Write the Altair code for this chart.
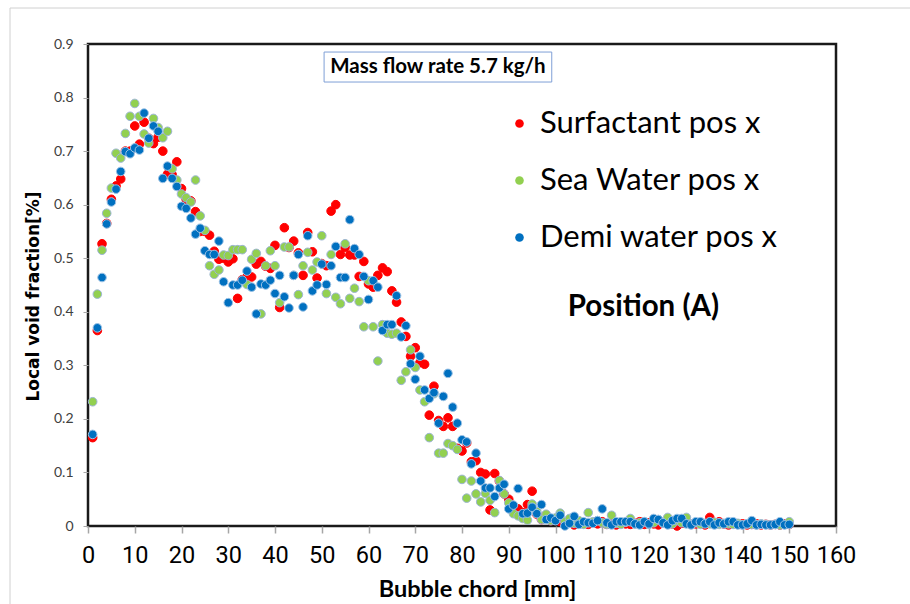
import altair as alt
import pandas as pd

SERIES = ["Surfactant pos x", "Sea Water pos x", "Demi water pos x"]
COLORS = ["#FF0000", "#92D050", "#0070C0"]
OUTLINES = ["#FF0000", "#9DB5D6", "#9DC3E6"]

X_MM = list(range(1, 151))

SURFACTANT = [
    0.165, 0.365, 0.527, 0.565, 0.610, 0.635, 0.648, 0.700, 0.700, 0.747,
    0.713, 0.754, 0.724, 0.714, 0.726, 0.700, 0.657, 0.656, 0.680, 0.630,
    0.610, 0.607, 0.587, 0.550, 0.550, 0.543, 0.513, 0.498, 0.500, 0.493,
    0.499, 0.425, 0.460, 0.465, 0.465, 0.489, 0.494, 0.485, 0.481, 0.524,
    0.408, 0.557, 0.520, 0.532, 0.510, 0.468, 0.548, 0.512, 0.463, 0.490,
    0.486, 0.588, 0.600, 0.507, 0.520, 0.506, 0.506, 0.466, 0.494, 0.452,
    0.446, 0.468, 0.482, 0.475, 0.439, 0.418, 0.381, 0.354, 0.317, 0.333,
    0.305, 0.302, 0.207, 0.261, 0.197, 0.186, 0.202, 0.186, 0.145, 0.140,
    0.155, 0.120, 0.122, 0.100, 0.097, 0.030, 0.098, 0.084, 0.060, 0.050,
    0.028, 0.032, 0.025, 0.040, 0.065, 0.022, 0.012, 0.020, 0.010, 0.012,
    0.008, 0.005, 0.010, 0.002, 0.004, 0.005, 0.003, 0.006, 0.004, 0.008,
    0.003, 0.005, 0.002, 0.006, 0.004, 0.003, 0.005, 0.008, 0.003, 0.006,
    0.004, 0.002, 0.005, 0.008, 0.004, 0.000, 0.005, 0.006, 0.003, 0.004,
    0.006, 0.002, 0.016, 0.005, 0.008, 0.004, 0.002, 0.005, 0.003, 0.004,
    0.002, 0.003, 0.004, 0.002, 0.003, 0.002, 0.003, 0.002, 0.004, 0.003,
]

SEA_WATER = [
    0.232, 0.433, 0.515, 0.584, 0.631, 0.696, 0.687, 0.733, 0.765, 0.789,
    0.765, 0.732, 0.715, 0.761, 0.744, 0.725, 0.737, 0.667, 0.646, 0.620,
    0.613, 0.605, 0.646, 0.579, 0.552, 0.486, 0.470, 0.478, 0.506, 0.505,
    0.516, 0.516, 0.516, 0.451, 0.498, 0.509, 0.396, 0.486, 0.514, 0.486,
    0.417, 0.521, 0.521, 0.468, 0.432, 0.486, 0.511, 0.478, 0.493, 0.542,
    0.434, 0.507, 0.427, 0.415, 0.527, 0.425, 0.444, 0.419, 0.372, 0.458,
    0.372, 0.308, 0.376, 0.360, 0.358, 0.360, 0.272, 0.288, 0.329, 0.296,
    0.254, 0.232, 0.165, 0.247, 0.136, 0.136, 0.154, 0.150, 0.143, 0.087,
    0.052, 0.084, 0.060, 0.045, 0.061, 0.048, 0.025, 0.085, 0.060, 0.043,
    0.023, 0.019, 0.014, 0.011, 0.041, 0.027, 0.012, 0.022, 0.010, 0.015,
    0.024, 0.008, 0.014, 0.005, 0.010, 0.003, 0.025, 0.008, 0.010, 0.006,
    0.003, 0.020, 0.005, 0.003, 0.007, 0.014, 0.004, 0.006, 0.008, 0.003,
    0.006, 0.012, 0.005, 0.016, 0.004, 0.010, 0.006, 0.016, 0.004, 0.006,
    0.003, 0.005, 0.004, 0.007, 0.003, 0.005, 0.004, 0.003, 0.005, 0.002,
    0.004, 0.003, 0.002, 0.004, 0.003, 0.002, 0.003, 0.002, 0.003, 0.008,
]

DEMI_WATER = [
    0.171, 0.370, 0.464, 0.564, 0.605, 0.629, 0.662, 0.699, 0.695, 0.706,
    0.702, 0.771, 0.724, 0.747, 0.737, 0.649, 0.672, 0.649, 0.634, 0.597,
    0.593, 0.575, 0.545, 0.556, 0.514, 0.507, 0.507, 0.532, 0.456, 0.417,
    0.450, 0.450, 0.459, 0.476, 0.446, 0.396, 0.452, 0.450, 0.459, 0.434,
    0.468, 0.428, 0.407, 0.468, 0.507, 0.409, 0.542, 0.439, 0.450, 0.489,
    0.451, 0.486, 0.522, 0.464, 0.464, 0.572, 0.518, 0.507, 0.466, 0.423,
    0.458, 0.446, 0.365, 0.376, 0.376, 0.430, 0.353, 0.374, 0.303, 0.274,
    0.317, 0.254, 0.238, 0.249, 0.192, 0.242, 0.285, 0.222, 0.192, 0.161,
    0.157, 0.116, 0.136, 0.084, 0.071, 0.071, 0.055, 0.071, 0.078, 0.032,
    0.039, 0.070, 0.023, 0.024, 0.035, 0.023, 0.040, 0.012, 0.015, 0.010,
    0.020, 0.000, 0.005, 0.018, 0.003, 0.008, 0.006, 0.005, 0.010, 0.032,
    0.006, 0.002, 0.008, 0.008, 0.008, 0.008, 0.004, 0.002, 0.008, 0.004,
    0.014, 0.012, 0.006, 0.002, 0.010, 0.014, 0.014, 0.004, 0.002, 0.008,
    0.008, 0.004, 0.008, 0.002, 0.006, 0.004, 0.008, 0.008, 0.002, 0.002,
    0.004, 0.010, 0.002, 0.003, 0.002, 0.002, 0.003, 0.008, 0.002, 0.003,
]

X_TICKS = list(range(0, 161, 10))
Y_TICKS = [0, 0.1, 0.2, 0.3, 0.4, 0.5, 0.6, 0.7, 0.8, 0.9]

rows = []
for name, vals in zip(SERIES, [SURFACTANT, SEA_WATER, DEMI_WATER]):
    for xv, yv in zip(X_MM, vals):
        rows.append({"series": name, "chord": xv, "void": yv})
df = pd.DataFrame(rows)

x_enc = alt.X("chord:Q", scale=alt.Scale(domain=[0, 160], nice=False, zero=False),
              axis=alt.Axis(values=X_TICKS, title="Bubble chord [mm]", grid=False,
                            domain=False, ticks=True, tickColor="#a6a6a6", tickSize=7,
                            tickWidth=1.5, labelFont="Roboto", labelFontSize=23.5,
                            labelColor="#000000", labelPadding=10, labelFlush=False,
                            titleFont="Lato", titleFontSize=23.5, titleFontWeight="bold",
                            titleColor="#000000", titlePadding=11,
                            titleX=389, titleAnchor="start", titleAlign="center"))
y_enc = alt.Y("void:Q", scale=alt.Scale(domain=[0, 0.9], nice=False, zero=True),
              axis=alt.Axis(values=Y_TICKS, format=".1~f", title="Local void fraction[%]",
                            grid=False, domain=False, ticks=True, tickColor="#a6a6a6",
                            tickSize=5, labelFont="Lato", labelFontSize=14,
                            labelColor="#404040", labelPadding=10,
                            titleFont="DejaVu Sans", titleFontSize=17,
                            titleFontWeight="bold", titleColor="#000000",
                            titlePadding=11, titleY=252, titleAnchor="start",
                            titleAlign="center"))

points = alt.Chart(df).mark_point(filled=True, shape="circle", size=74,
                                  strokeWidth=1, opacity=1).encode(
    x=x_enc,
    y=y_enc,
    fill=alt.Fill("series:N", scale=alt.Scale(domain=SERIES, range=COLORS),
                  legend=alt.Legend(title=None, orient="none", legendX=416, legendY=64,
                                    symbolType="circle", symbolSize=74,
                                    symbolStrokeWidth=0, labelFont="Lato",
                                    labelFontSize=31, labelColor="#000000",
                                    labelOffset=5, rowPadding=25, padding=0,
                                    labelLimit=400)),
    stroke=alt.Stroke("series:N", scale=alt.Scale(domain=SERIES, range=OUTLINES),
                      legend=None),
)

ann = pd.DataFrame({"x1": [50.5], "x2": [99.2], "y1": [0.829], "y2": [0.885],
                    "tx": [74.85], "ty": [0.857], "label": ["Mass flow rate 5.7 kg/h"]})
box = alt.Chart(ann).mark_rect(fill="white", stroke="#7F9FD6", strokeWidth=1).encode(
    x="x1:Q", x2="x2:Q", y="y1:Q", y2="y2:Q")
box_text = alt.Chart(ann).mark_text(font="Lato", fontSize=20.5, fontWeight="bold",
                                    color="#000000", baseline="middle",
                                    align="center").encode(
    x="tx:Q", y="ty:Q", text="label:N")

pos = pd.DataFrame({"tx": [118.8], "ty": [0.408], "label": ["Position (A)"]})
pos_text = alt.Chart(pos).mark_text(font="Lato", fontSize=29.5, fontWeight="bold",
                                    color="#000000", baseline="middle",
                                    align="center").encode(
    x="tx:Q", y="ty:Q", text="label:N")

frame_top = alt.Chart(ann).mark_rule(color="#d0d0d0", strokeWidth=1).encode(
    x=alt.value(-78), x2=alt.value(822), y=alt.value(-36))
frame_left = alt.Chart(ann).mark_rule(color="#d0d0d0", strokeWidth=1).encode(
    x=alt.value(-78), y=alt.value(-36), y2=alt.value(560))

chart = alt.layer(frame_top, frame_left, points, box, box_text, pos_text).properties(
    width=748, height=482,
    autosize=alt.AutoSizeParams(type="none"),
    padding={"left": 88, "top": 44, "right": 74, "bottom": 78},
    background="white",
).configure_view(stroke="#1a1a1a", strokeWidth=2.5)

chart.save("out.html", embed_options={"renderer": "svg", "actions": False})
